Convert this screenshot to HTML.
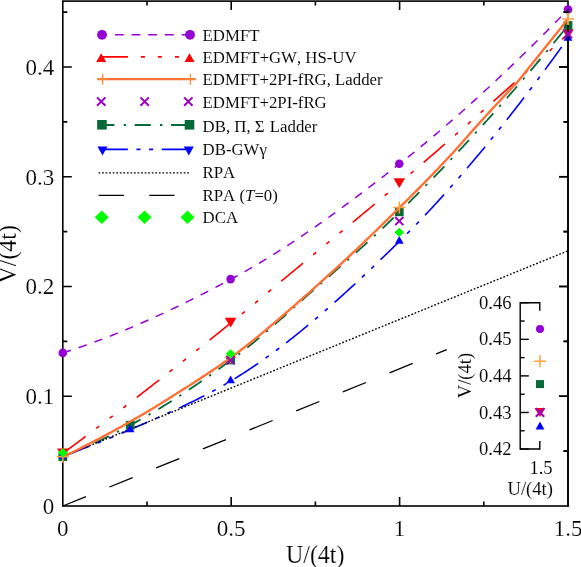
<!DOCTYPE html>
<html><head><meta charset="utf-8"><title>Phase diagram</title>
<style>
html,body{margin:0;padding:0;background:#fff;}
body{width:581px;height:567px;overflow:hidden;font-family:"Liberation Serif",serif;}
svg{display:block;will-change:transform;}
text{font-kerning:none;font-variant-ligatures:none;}
</style></head><body>
<svg width="581" height="567" viewBox="0 0 581 567">
<rect width="581" height="567" fill="#fff"/>
<g stroke="#000" stroke-width="1.6" fill="none" stroke-linecap="butt">
<rect x="62.80" y="1.10" width="505.20" height="504.90"/>
<path d="M147.00,506.00 v-4.50 M147.00,1.10 v4.50"/>
<path d="M231.20,506.00 v-9.00 M231.20,1.10 v9.00"/>
<path d="M315.40,506.00 v-4.50 M315.40,1.10 v4.50"/>
<path d="M399.60,506.00 v-9.00 M399.60,1.10 v9.00"/>
<path d="M483.80,506.00 v-4.50 M483.80,1.10 v4.50"/>
<path d="M62.80,451.12 h4.50 M568.00,451.12 h-4.50"/>
<path d="M62.80,396.24 h9.00 M568.00,396.24 h-9.00"/>
<path d="M62.80,341.36 h4.50 M568.00,341.36 h-4.50"/>
<path d="M62.80,286.48 h9.00 M568.00,286.48 h-9.00"/>
<path d="M62.80,231.60 h4.50 M568.00,231.60 h-4.50"/>
<path d="M62.80,176.72 h9.00 M568.00,176.72 h-9.00"/>
<path d="M62.80,121.84 h4.50 M568.00,121.84 h-4.50"/>
<path d="M62.80,66.96 h9.00 M568.00,66.96 h-9.00"/>
<path d="M62.80,12.08 h4.50 M568.00,12.08 h-4.50"/>
</g>
<path d="M62.80,352.88 L64.49,352.35 L66.18,351.81 L67.87,351.27 L69.56,350.72 L71.25,350.16 L72.94,349.60 L74.63,349.04 L76.32,348.47 L78.01,347.90 L79.70,347.32 L81.39,346.74 L83.08,346.15 L84.77,345.55 L86.45,344.96 L88.14,344.35 L89.83,343.75 L91.52,343.13 L93.21,342.52 L94.90,341.90 L96.59,341.27 L98.28,340.64 L99.97,340.01 L101.66,339.37 L103.35,338.72 L105.04,338.08 L106.73,337.42 L108.42,336.77 L110.11,336.10 L111.80,335.44 L113.49,334.77 L115.18,334.09 L116.87,333.42 L118.56,332.73 L120.25,332.05 L121.94,331.35 L123.63,330.66 L125.32,329.96 L127.01,329.26 L128.70,328.55 L130.39,327.84 L132.07,327.12 L133.76,326.40 L135.45,325.68 L137.14,324.95 L138.83,324.22 L140.52,323.49 L142.21,322.75 L143.90,322.00 L145.59,321.26 L147.28,320.51 L148.97,319.75 L150.66,318.99 L152.35,318.23 L154.04,317.47 L155.73,316.70 L157.42,315.93 L159.11,315.15 L160.80,314.37 L162.49,313.59 L164.18,312.80 L165.87,312.01 L167.56,311.22 L169.25,310.42 L170.94,309.62 L172.63,308.82 L174.32,308.01 L176.01,307.20 L177.69,306.39 L179.38,305.58 L181.07,304.76 L182.76,303.93 L184.45,303.11 L186.14,302.28 L187.83,301.45 L189.52,300.61 L191.21,299.77 L192.90,298.93 L194.59,298.09 L196.28,297.24 L197.97,296.39 L199.66,295.54 L201.35,294.68 L203.04,293.82 L204.73,292.96 L206.42,292.10 L208.11,291.23 L209.80,290.36 L211.49,289.49 L213.18,288.62 L214.87,287.74 L216.56,286.86 L218.25,285.98 L219.94,285.09 L221.63,284.20 L223.32,283.31 L225.00,282.42 L226.69,281.52 L228.38,280.63 L230.07,279.73 L231.76,278.82 L233.45,277.91 L235.14,277.00 L236.83,276.08 L238.52,275.15 L240.21,274.21 L241.90,273.27 L243.59,272.32 L245.28,271.37 L246.97,270.41 L248.66,269.44 L250.35,268.46 L252.04,267.48 L253.73,266.50 L255.42,265.50 L257.11,264.50 L258.80,263.50 L260.49,262.49 L262.18,261.47 L263.87,260.45 L265.56,259.42 L267.25,258.39 L268.94,257.35 L270.62,256.30 L272.31,255.25 L274.00,254.19 L275.69,253.13 L277.38,252.06 L279.07,250.99 L280.76,249.91 L282.45,248.82 L284.14,247.73 L285.83,246.64 L287.52,245.54 L289.21,244.43 L290.90,243.32 L292.59,242.21 L294.28,241.09 L295.97,239.97 L297.66,238.84 L299.35,237.70 L301.04,236.56 L302.73,235.42 L304.42,234.27 L306.11,233.12 L307.80,231.96 L309.49,230.80 L311.18,229.63 L312.87,228.46 L314.56,227.28 L316.24,226.11 L317.93,224.92 L319.62,223.73 L321.31,222.54 L323.00,221.35 L324.69,220.15 L326.38,218.94 L328.07,217.73 L329.76,216.52 L331.45,215.31 L333.14,214.09 L334.83,212.87 L336.52,211.64 L338.21,210.41 L339.90,209.18 L341.59,207.94 L343.28,206.70 L344.97,205.46 L346.66,204.21 L348.35,202.96 L350.04,201.71 L351.73,200.45 L353.42,199.19 L355.11,197.93 L356.80,196.66 L358.49,195.39 L360.18,194.12 L361.86,192.85 L363.55,191.57 L365.24,190.29 L366.93,189.01 L368.62,187.72 L370.31,186.44 L372.00,185.15 L373.69,183.85 L375.38,182.56 L377.07,181.26 L378.76,179.96 L380.45,178.66 L382.14,177.36 L383.83,176.05 L385.52,174.74 L387.21,173.43 L388.90,172.12 L390.59,170.80 L392.28,169.49 L393.97,168.17 L395.66,166.85 L397.35,165.53 L399.04,164.21 L400.73,162.88 L402.42,161.55 L404.11,160.22 L405.80,158.88 L407.48,157.53 L409.17,156.18 L410.86,154.83 L412.55,153.47 L414.24,152.10 L415.93,150.73 L417.62,149.36 L419.31,147.98 L421.00,146.59 L422.69,145.20 L424.38,143.81 L426.07,142.41 L427.76,141.01 L429.45,139.60 L431.14,138.19 L432.83,136.77 L434.52,135.35 L436.21,133.92 L437.90,132.49 L439.59,131.05 L441.28,129.61 L442.97,128.16 L444.66,126.71 L446.35,125.26 L448.04,123.80 L449.73,122.34 L451.42,120.87 L453.11,119.39 L454.79,117.92 L456.48,116.43 L458.17,114.95 L459.86,113.46 L461.55,111.96 L463.24,110.46 L464.93,108.96 L466.62,107.45 L468.31,105.94 L470.00,104.42 L471.69,102.90 L473.38,101.37 L475.07,99.84 L476.76,98.31 L478.45,96.77 L480.14,95.22 L481.83,93.68 L483.52,92.12 L485.21,90.57 L486.90,89.01 L488.59,87.44 L490.28,85.88 L491.97,84.30 L493.66,82.73 L495.35,81.15 L497.04,79.56 L498.73,77.97 L500.41,76.38 L502.10,74.78 L503.79,73.18 L505.48,71.58 L507.17,69.97 L508.86,68.36 L510.55,66.74 L512.24,65.12 L513.93,63.50 L515.62,61.87 L517.31,60.24 L519.00,58.60 L520.69,56.96 L522.38,55.32 L524.07,53.67 L525.76,52.02 L527.45,50.36 L529.14,48.70 L530.83,47.04 L532.52,45.37 L534.21,43.70 L535.90,42.03 L537.59,40.35 L539.28,38.67 L540.97,36.99 L542.66,35.30 L544.35,33.61 L546.03,31.91 L547.72,30.21 L549.41,28.51 L551.10,26.80 L552.79,25.09 L554.48,23.38 L556.17,21.66 L557.86,19.94 L559.55,18.22 L561.24,16.49 L562.93,14.76 L564.62,13.03 L566.31,11.29 L568.00,9.55" fill="none" stroke="#9400D3" stroke-width="1.5" stroke-linecap="butt" stroke-linejoin="round" stroke-dasharray="8.45 8.17" stroke-dashoffset="-0.1"/>
<path d="M62.80,453.31 L64.49,452.07 L66.18,450.82 L67.87,449.58 L69.56,448.33 L71.25,447.07 L72.94,445.82 L74.63,444.57 L76.32,443.31 L78.01,442.05 L79.70,440.79 L81.39,439.53 L83.08,438.27 L84.77,437.01 L86.45,435.74 L88.14,434.48 L89.83,433.21 L91.52,431.94 L93.21,430.67 L94.90,429.39 L96.59,428.12 L98.28,426.84 L99.97,425.57 L101.66,424.29 L103.35,423.01 L105.04,421.73 L106.73,420.44 L108.42,419.16 L110.11,417.87 L111.80,416.58 L113.49,415.30 L115.18,414.01 L116.87,412.72 L118.56,411.42 L120.25,410.13 L121.94,408.83 L123.63,407.54 L125.32,406.24 L127.01,404.94 L128.70,403.64 L130.39,402.34 L132.07,401.03 L133.76,399.73 L135.45,398.42 L137.14,397.12 L138.83,395.81 L140.52,394.50 L142.21,393.19 L143.90,391.88 L145.59,390.57 L147.28,389.25 L148.97,387.94 L150.66,386.62 L152.35,385.30 L154.04,383.98 L155.73,382.66 L157.42,381.34 L159.11,380.02 L160.80,378.70 L162.49,377.37 L164.18,376.05 L165.87,374.72 L167.56,373.39 L169.25,372.07 L170.94,370.74 L172.63,369.40 L174.32,368.07 L176.01,366.74 L177.69,365.41 L179.38,364.07 L181.07,362.74 L182.76,361.40 L184.45,360.06 L186.14,358.72 L187.83,357.38 L189.52,356.04 L191.21,354.70 L192.90,353.36 L194.59,352.01 L196.28,350.67 L197.97,349.33 L199.66,347.98 L201.35,346.63 L203.04,345.28 L204.73,343.94 L206.42,342.59 L208.11,341.24 L209.80,339.88 L211.49,338.53 L213.18,337.18 L214.87,335.83 L216.56,334.47 L218.25,333.12 L219.94,331.76 L221.63,330.40 L223.32,329.04 L225.00,327.69 L226.69,326.33 L228.38,324.97 L230.07,323.61 L231.76,322.25 L233.45,320.88 L235.14,319.51 L236.83,318.14 L238.52,316.76 L240.21,315.38 L241.90,314.00 L243.59,312.61 L245.28,311.22 L246.97,309.82 L248.66,308.43 L250.35,307.03 L252.04,305.63 L253.73,304.23 L255.42,302.82 L257.11,301.41 L258.80,300.01 L260.49,298.60 L262.18,297.19 L263.87,295.77 L265.56,294.36 L267.25,292.95 L268.94,291.53 L270.62,290.12 L272.31,288.71 L274.00,287.29 L275.69,285.88 L277.38,284.46 L279.07,283.05 L280.76,281.64 L282.45,280.23 L284.14,278.82 L285.83,277.41 L287.52,276.00 L289.21,274.60 L290.90,273.20 L292.59,271.79 L294.28,270.39 L295.97,269.00 L297.66,267.60 L299.35,266.20 L301.04,264.81 L302.73,263.41 L304.42,262.02 L306.11,260.63 L307.80,259.24 L309.49,257.85 L311.18,256.46 L312.87,255.07 L314.56,253.68 L316.24,252.29 L317.93,250.90 L319.62,249.51 L321.31,248.13 L323.00,246.74 L324.69,245.35 L326.38,243.97 L328.07,242.58 L329.76,241.19 L331.45,239.81 L333.14,238.42 L334.83,237.03 L336.52,235.65 L338.21,234.26 L339.90,232.87 L341.59,231.48 L343.28,230.09 L344.97,228.70 L346.66,227.31 L348.35,225.92 L350.04,224.53 L351.73,223.14 L353.42,221.75 L355.11,220.35 L356.80,218.96 L358.49,217.56 L360.18,216.16 L361.86,214.76 L363.55,213.36 L365.24,211.96 L366.93,210.56 L368.62,209.16 L370.31,207.75 L372.00,206.34 L373.69,204.94 L375.38,203.52 L377.07,202.11 L378.76,200.70 L380.45,199.28 L382.14,197.86 L383.83,196.44 L385.52,195.02 L387.21,193.60 L388.90,192.17 L390.59,190.74 L392.28,189.31 L393.97,187.88 L395.66,186.44 L397.35,185.01 L399.04,183.56 L400.73,182.12 L402.42,180.68 L404.11,179.23 L405.80,177.79 L407.48,176.34 L409.17,174.89 L410.86,173.44 L412.55,171.99 L414.24,170.54 L415.93,169.09 L417.62,167.64 L419.31,166.18 L421.00,164.73 L422.69,163.27 L424.38,161.81 L426.07,160.36 L427.76,158.90 L429.45,157.44 L431.14,155.98 L432.83,154.52 L434.52,153.05 L436.21,151.59 L437.90,150.12 L439.59,148.66 L441.28,147.19 L442.97,145.72 L444.66,144.25 L446.35,142.78 L448.04,141.31 L449.73,139.84 L451.42,138.37 L453.11,136.89 L454.79,135.42 L456.48,133.94 L458.17,132.47 L459.86,130.99 L461.55,129.51 L463.24,128.03 L464.93,126.55 L466.62,125.06 L468.31,123.58 L470.00,122.10 L471.69,120.61 L473.38,119.12 L475.07,117.63 L476.76,116.15 L478.45,114.66 L480.14,113.16 L481.83,111.67 L483.52,110.18 L485.21,108.68 L486.90,107.19 L488.59,105.69 L490.28,104.19 L491.97,102.69 L493.66,101.19 L495.35,99.69 L497.04,98.19 L498.73,96.69 L500.41,95.18 L502.10,93.68 L503.79,92.17 L505.48,90.66 L507.17,89.15 L508.86,87.64 L510.55,86.13 L512.24,84.62 L513.93,83.10 L515.62,81.59 L517.31,80.07 L519.00,78.56 L520.69,77.04 L522.38,75.52 L524.07,74.00 L525.76,72.47 L527.45,70.95 L529.14,69.43 L530.83,67.90 L532.52,66.37 L534.21,64.85 L535.90,63.32 L537.59,61.79 L539.28,60.25 L540.97,58.72 L542.66,57.19 L544.35,55.65 L546.03,54.12 L547.72,52.58 L549.41,51.04 L551.10,49.50 L552.79,47.96 L554.48,46.41 L556.17,44.87 L557.86,43.33 L559.55,41.78 L561.24,40.23 L562.93,38.68 L564.62,37.13 L566.31,35.58 L568.00,34.03" fill="none" stroke="#FF0000" stroke-width="1.6" stroke-linecap="butt" stroke-linejoin="round" stroke-dasharray="28.4 13.15 3.9 13.15 3.9 13.15 3.9 13.15" stroke-dashoffset="0"/>
<path d="M62.80,456.72 L64.49,456.04 L66.18,455.36 L67.87,454.68 L69.56,453.99 L71.25,453.29 L72.94,452.59 L74.63,451.88 L76.32,451.16 L78.01,450.44 L79.70,449.71 L81.39,448.97 L83.08,448.23 L84.77,447.49 L86.45,446.73 L88.14,445.98 L89.83,445.21 L91.52,444.44 L93.21,443.66 L94.90,442.88 L96.59,442.09 L98.28,441.30 L99.97,440.50 L101.66,439.69 L103.35,438.88 L105.04,438.06 L106.73,437.24 L108.42,436.41 L110.11,435.57 L111.80,434.73 L113.49,433.88 L115.18,433.03 L116.87,432.17 L118.56,431.31 L120.25,430.44 L121.94,429.56 L123.63,428.68 L125.32,427.79 L127.01,426.90 L128.70,426.00 L130.39,425.10 L132.07,424.18 L133.76,423.27 L135.45,422.34 L137.14,421.41 L138.83,420.47 L140.52,419.52 L142.21,418.57 L143.90,417.61 L145.59,416.64 L147.28,415.67 L148.97,414.69 L150.66,413.71 L152.35,412.71 L154.04,411.71 L155.73,410.71 L157.42,409.70 L159.11,408.68 L160.80,407.65 L162.49,406.62 L164.18,405.59 L165.87,404.54 L167.56,403.49 L169.25,402.44 L170.94,401.38 L172.63,400.31 L174.32,399.24 L176.01,398.16 L177.69,397.07 L179.38,395.98 L181.07,394.89 L182.76,393.79 L184.45,392.68 L186.14,391.57 L187.83,390.45 L189.52,389.32 L191.21,388.19 L192.90,387.06 L194.59,385.92 L196.28,384.78 L197.97,383.62 L199.66,382.47 L201.35,381.31 L203.04,380.14 L204.73,378.97 L206.42,377.80 L208.11,376.62 L209.80,375.43 L211.49,374.24 L213.18,373.05 L214.87,371.85 L216.56,370.64 L218.25,369.43 L219.94,368.22 L221.63,367.00 L223.32,365.78 L225.00,364.55 L226.69,363.32 L228.38,362.09 L230.07,360.85 L231.76,359.60 L233.45,358.35 L235.14,357.08 L236.83,355.80 L238.52,354.50 L240.21,353.20 L241.90,351.88 L243.59,350.55 L245.28,349.21 L246.97,347.86 L248.66,346.50 L250.35,345.13 L252.04,343.76 L253.73,342.37 L255.42,340.97 L257.11,339.56 L258.80,338.15 L260.49,336.73 L262.18,335.30 L263.87,333.86 L265.56,332.42 L267.25,330.97 L268.94,329.52 L270.62,328.06 L272.31,326.59 L274.00,325.12 L275.69,323.64 L277.38,322.16 L279.07,320.68 L280.76,319.19 L282.45,317.70 L284.14,316.21 L285.83,314.71 L287.52,313.21 L289.21,311.71 L290.90,310.21 L292.59,308.70 L294.28,307.20 L295.97,305.69 L297.66,304.19 L299.35,302.68 L301.04,301.18 L302.73,299.67 L304.42,298.17 L306.11,296.67 L307.80,295.17 L309.49,293.67 L311.18,292.18 L312.87,290.69 L314.56,289.20 L316.24,287.71 L317.93,286.23 L319.62,284.74 L321.31,283.26 L323.00,281.78 L324.69,280.30 L326.38,278.82 L328.07,277.33 L329.76,275.85 L331.45,274.37 L333.14,272.88 L334.83,271.40 L336.52,269.91 L338.21,268.43 L339.90,266.94 L341.59,265.45 L343.28,263.96 L344.97,262.46 L346.66,260.97 L348.35,259.47 L350.04,257.96 L351.73,256.46 L353.42,254.95 L355.11,253.44 L356.80,251.93 L358.49,250.41 L360.18,248.89 L361.86,247.36 L363.55,245.83 L365.24,244.30 L366.93,242.76 L368.62,241.22 L370.31,239.67 L372.00,238.11 L373.69,236.55 L375.38,234.99 L377.07,233.42 L378.76,231.84 L380.45,230.26 L382.14,228.67 L383.83,227.08 L385.52,225.48 L387.21,223.87 L388.90,222.25 L390.59,220.63 L392.28,219.00 L393.97,217.36 L395.66,215.71 L397.35,214.06 L399.04,212.40 L400.73,210.73 L402.42,209.05 L404.11,207.38 L405.80,205.70 L407.48,204.01 L409.17,202.32 L410.86,200.63 L412.55,198.94 L414.24,197.24 L415.93,195.53 L417.62,193.83 L419.31,192.12 L421.00,190.40 L422.69,188.68 L424.38,186.96 L426.07,185.24 L427.76,183.51 L429.45,181.78 L431.14,180.04 L432.83,178.30 L434.52,176.55 L436.21,174.80 L437.90,173.05 L439.59,171.30 L441.28,169.54 L442.97,167.77 L444.66,166.00 L446.35,164.23 L448.04,162.46 L449.73,160.68 L451.42,158.89 L453.11,157.10 L454.79,155.31 L456.48,153.52 L458.17,151.72 L459.86,149.91 L461.55,148.11 L463.24,146.29 L464.93,144.48 L466.62,142.66 L468.31,140.83 L470.00,139.00 L471.69,137.17 L473.38,135.33 L475.07,133.49 L476.76,131.65 L478.45,129.80 L480.14,127.95 L481.83,126.09 L483.52,124.23 L485.21,122.36 L486.90,120.49 L488.59,118.62 L490.28,116.74 L491.97,114.85 L493.66,112.97 L495.35,111.07 L497.04,109.18 L498.73,107.28 L500.41,105.37 L502.10,103.46 L503.79,101.55 L505.48,99.63 L507.17,97.71 L508.86,95.78 L510.55,93.85 L512.24,91.92 L513.93,89.98 L515.62,88.03 L517.31,86.08 L519.00,84.13 L520.69,82.17 L522.38,80.21 L524.07,78.24 L525.76,76.27 L527.45,74.29 L529.14,72.31 L530.83,70.33 L532.52,68.34 L534.21,66.34 L535.90,64.34 L537.59,62.34 L539.28,60.33 L540.97,58.32 L542.66,56.30 L544.35,54.28 L546.03,52.25 L547.72,50.22 L549.41,48.18 L551.10,46.14 L552.79,44.10 L554.48,42.05 L556.17,39.99 L557.86,37.93 L559.55,35.86 L561.24,33.79 L562.93,31.72 L564.62,29.64 L566.31,27.56 L568.00,25.47" fill="none" stroke="#056A38" stroke-width="1.8" stroke-linecap="butt" stroke-linejoin="round" stroke-dasharray="15.6 9.0 2.4 9.05" stroke-dashoffset="1.25"/>
<path d="M62.80,456.06 L64.49,455.46 L66.18,454.85 L67.87,454.24 L69.56,453.63 L71.25,453.01 L72.94,452.39 L74.63,451.77 L76.32,451.15 L78.01,450.52 L79.70,449.89 L81.39,449.25 L83.08,448.62 L84.77,447.98 L86.45,447.33 L88.14,446.69 L89.83,446.04 L91.52,445.39 L93.21,444.73 L94.90,444.07 L96.59,443.41 L98.28,442.75 L99.97,442.08 L101.66,441.41 L103.35,440.73 L105.04,440.06 L106.73,439.38 L108.42,438.69 L110.11,438.01 L111.80,437.31 L113.49,436.62 L115.18,435.93 L116.87,435.23 L118.56,434.52 L120.25,433.82 L121.94,433.11 L123.63,432.39 L125.32,431.68 L127.01,430.96 L128.70,430.24 L130.39,429.51 L132.07,428.78 L133.76,428.06 L135.45,427.33 L137.14,426.60 L138.83,425.88 L140.52,425.15 L142.21,424.42 L143.90,423.69 L145.59,422.96 L147.28,422.23 L148.97,421.50 L150.66,420.77 L152.35,420.03 L154.04,419.29 L155.73,418.55 L157.42,417.81 L159.11,417.07 L160.80,416.32 L162.49,415.57 L164.18,414.82 L165.87,414.07 L167.56,413.31 L169.25,412.55 L170.94,411.78 L172.63,411.02 L174.32,410.24 L176.01,409.47 L177.69,408.69 L179.38,407.90 L181.07,407.11 L182.76,406.32 L184.45,405.52 L186.14,404.71 L187.83,403.90 L189.52,403.09 L191.21,402.27 L192.90,401.44 L194.59,400.61 L196.28,399.77 L197.97,398.92 L199.66,398.07 L201.35,397.21 L203.04,396.35 L204.73,395.48 L206.42,394.60 L208.11,393.71 L209.80,392.82 L211.49,391.91 L213.18,391.00 L214.87,390.09 L216.56,389.16 L218.25,388.23 L219.94,387.28 L221.63,386.33 L223.32,385.37 L225.00,384.40 L226.69,383.42 L228.38,382.43 L230.07,381.43 L231.76,380.43 L233.45,379.41 L235.14,378.38 L236.83,377.34 L238.52,376.29 L240.21,375.23 L241.90,374.16 L243.59,373.08 L245.28,371.99 L246.97,370.89 L248.66,369.78 L250.35,368.66 L252.04,367.54 L253.73,366.40 L255.42,365.25 L257.11,364.09 L258.80,362.93 L260.49,361.75 L262.18,360.57 L263.87,359.38 L265.56,358.17 L267.25,356.96 L268.94,355.74 L270.62,354.51 L272.31,353.28 L274.00,352.03 L275.69,350.78 L277.38,349.51 L279.07,348.24 L280.76,346.96 L282.45,345.68 L284.14,344.38 L285.83,343.08 L287.52,341.76 L289.21,340.45 L290.90,339.12 L292.59,337.78 L294.28,336.44 L295.97,335.09 L297.66,333.73 L299.35,332.37 L301.04,331.00 L302.73,329.62 L304.42,328.23 L306.11,326.84 L307.80,325.44 L309.49,324.03 L311.18,322.62 L312.87,321.20 L314.56,319.77 L316.24,318.34 L317.93,316.90 L319.62,315.45 L321.31,314.00 L323.00,312.54 L324.69,311.07 L326.38,309.60 L328.07,308.12 L329.76,306.64 L331.45,305.15 L333.14,303.65 L334.83,302.15 L336.52,300.65 L338.21,299.14 L339.90,297.62 L341.59,296.10 L343.28,294.57 L344.97,293.03 L346.66,291.50 L348.35,289.95 L350.04,288.40 L351.73,286.85 L353.42,285.29 L355.11,283.73 L356.80,282.16 L358.49,280.59 L360.18,279.01 L361.86,277.43 L363.55,275.85 L365.24,274.26 L366.93,272.66 L368.62,271.07 L370.31,269.47 L372.00,267.86 L373.69,266.25 L375.38,264.64 L377.07,263.02 L378.76,261.40 L380.45,259.78 L382.14,258.15 L383.83,256.52 L385.52,254.88 L387.21,253.25 L388.90,251.60 L390.59,249.96 L392.28,248.31 L393.97,246.67 L395.66,245.01 L397.35,243.36 L399.04,241.70 L400.73,240.04 L402.42,238.37 L404.11,236.69 L405.80,235.00 L407.48,233.31 L409.17,231.60 L410.86,229.89 L412.55,228.17 L414.24,226.44 L415.93,224.70 L417.62,222.95 L419.31,221.20 L421.00,219.43 L422.69,217.66 L424.38,215.88 L426.07,214.09 L427.76,212.30 L429.45,210.49 L431.14,208.68 L432.83,206.86 L434.52,205.03 L436.21,203.19 L437.90,201.35 L439.59,199.50 L441.28,197.64 L442.97,195.77 L444.66,193.89 L446.35,192.01 L448.04,190.12 L449.73,188.22 L451.42,186.31 L453.11,184.40 L454.79,182.47 L456.48,180.54 L458.17,178.61 L459.86,176.66 L461.55,174.71 L463.24,172.75 L464.93,170.78 L466.62,168.81 L468.31,166.82 L470.00,164.84 L471.69,162.84 L473.38,160.84 L475.07,158.82 L476.76,156.81 L478.45,154.78 L480.14,152.75 L481.83,150.71 L483.52,148.66 L485.21,146.61 L486.90,144.55 L488.59,142.48 L490.28,140.41 L491.97,138.33 L493.66,136.24 L495.35,134.15 L497.04,132.04 L498.73,129.94 L500.41,127.82 L502.10,125.70 L503.79,123.57 L505.48,121.44 L507.17,119.30 L508.86,117.15 L510.55,115.00 L512.24,112.84 L513.93,110.67 L515.62,108.50 L517.31,106.32 L519.00,104.14 L520.69,101.94 L522.38,99.75 L524.07,97.54 L525.76,95.33 L527.45,93.12 L529.14,90.89 L530.83,88.67 L532.52,86.43 L534.21,84.19 L535.90,81.95 L537.59,79.69 L539.28,77.44 L540.97,75.17 L542.66,72.90 L544.35,70.63 L546.03,68.35 L547.72,66.06 L549.41,63.77 L551.10,61.47 L552.79,59.17 L554.48,56.86 L556.17,54.55 L557.86,52.23 L559.55,49.90 L561.24,47.57 L562.93,45.24 L564.62,42.90 L566.31,40.55 L568.00,38.20" fill="none" stroke="#0000FF" stroke-width="1.6" stroke-linecap="butt" stroke-linejoin="round" stroke-dasharray="28.2 8.9 4 8.9 4 8.9" stroke-dashoffset="0"/>
<path d="M62.80,456.61 L568.00,250.81" fill="none" stroke="#000000" stroke-width="1.4" stroke-linecap="butt" stroke-linejoin="round" stroke-dasharray="1.75 1.8" stroke-dashoffset="0"/>
<path d="M62.80,506.00 L446.75,349.59" fill="none" stroke="#000000" stroke-width="1.3" stroke-linecap="butt" stroke-linejoin="round" stroke-dasharray="25 25.4" stroke-dashoffset="0"/>
<circle cx="62.80" cy="352.88" r="4.30" fill="#9400D3"/>
<circle cx="230.60" cy="279.12" r="4.30" fill="#9400D3"/>
<circle cx="399.30" cy="163.77" r="4.30" fill="#9400D3"/>
<circle cx="568.00" cy="9.55" r="4.30" fill="#9400D3"/>
<path d="M57.00,448.46 L68.60,448.46 L62.80,458.16 Z" fill="#FF0000"/>
<path d="M224.80,317.85 L236.40,317.85 L230.60,327.55 Z" fill="#FF0000"/>
<path d="M393.50,178.23 L405.10,178.23 L399.30,187.93 Z" fill="#FF0000"/>
<path d="M562.20,29.18 L573.80,29.18 L568.00,38.88 Z" fill="#FF0000"/>
<rect x="58.45" y="452.37" width="8.70" height="8.70" fill="#056A38"/>
<rect x="125.81" y="420.87" width="8.70" height="8.70" fill="#056A38"/>
<rect x="226.25" y="355.67" width="8.70" height="8.70" fill="#056A38"/>
<rect x="394.95" y="207.49" width="8.70" height="8.70" fill="#056A38"/>
<rect x="563.65" y="21.12" width="8.70" height="8.70" fill="#056A38"/>
<path d="M62.80,450.86 L67.20,458.66 L58.40,458.66 Z" fill="#0000FF"/>
<path d="M130.16,424.41 L134.56,432.21 L125.76,432.21 Z" fill="#0000FF"/>
<path d="M230.60,375.56 L235.00,383.36 L226.20,383.36 Z" fill="#0000FF"/>
<path d="M399.30,235.95 L403.70,243.75 L394.90,243.75 Z" fill="#0000FF"/>
<path d="M568.00,33.00 L572.40,40.80 L563.60,40.80 Z" fill="#0000FF"/>
<g stroke="#000" stroke-width="1.6" fill="none">
<path d="M568.00,9.55 V506.80"/>
<path d="M568.00,451.12 h-4.50"/>
<path d="M568.00,396.24 h-9.00"/>
<path d="M568.00,341.36 h-4.50"/>
<path d="M568.00,286.48 h-9.00"/>
<path d="M568.00,231.60 h-4.50"/>
<path d="M568.00,176.72 h-9.00"/>
<path d="M568.00,121.84 h-4.50"/>
<path d="M568.00,66.96 h-9.00"/>
<path d="M568.00,12.08 h-4.50"/>
</g>
<path d="M62.80,456.83 L65.85,455.38 L68.90,453.92 L71.95,452.44 L75.01,450.95 L78.06,449.44 L81.11,447.92 L84.16,446.38 L87.21,444.83 L90.26,443.26 L93.32,441.69 L96.37,440.10 L99.42,438.50 L102.47,436.88 L105.52,435.25 L108.57,433.61 L111.62,431.96 L114.68,430.30 L117.73,428.63 L120.78,426.94 L123.83,425.25 L126.88,423.55 L129.93,421.83 L132.99,420.10 L136.04,418.35 L139.09,416.58 L142.14,414.79 L145.19,412.98 L148.24,411.15 L151.29,409.31 L154.35,407.45 L157.40,405.58 L160.45,403.70 L163.50,401.80 L166.55,399.90 L169.60,397.98 L172.66,396.06 L175.71,394.13 L178.76,392.19 L181.81,390.25 L184.86,388.31 L187.91,386.37 L190.96,384.42 L194.02,382.47 L197.07,380.51 L200.12,378.54 L203.17,376.56 L206.22,374.56 L209.27,372.54 L212.33,370.50 L215.38,368.44 L218.43,366.35 L221.48,364.23 L224.53,362.08 L227.58,359.90 L230.63,357.69 L233.69,355.44 L236.74,353.15 L239.79,350.84 L242.84,348.50 L245.89,346.12 L248.94,343.72 L252.00,341.30 L255.05,338.85 L258.10,336.38 L261.15,333.88 L264.20,331.36 L267.25,328.82 L270.30,326.27 L273.36,323.69 L276.41,321.10 L279.46,318.50 L282.51,315.87 L285.56,313.24 L288.61,310.59 L291.67,307.94 L294.72,305.27 L297.77,302.59 L300.82,299.91 L303.87,297.22 L306.92,294.53 L309.98,291.83 L313.03,289.13 L316.08,286.43 L319.13,283.71 L322.18,280.98 L325.23,278.24 L328.28,275.48 L331.34,272.71 L334.39,269.92 L337.44,267.12 L340.49,264.30 L343.54,261.47 L346.59,258.63 L349.65,255.78 L352.70,252.91 L355.75,250.03 L358.80,247.14 L361.85,244.24 L364.90,241.33 L367.95,238.41 L371.01,235.48 L374.06,232.53 L377.11,229.58 L380.16,226.62 L383.21,223.65 L386.26,220.67 L389.32,217.68 L392.37,214.69 L395.42,211.69 L398.47,208.68 L401.52,205.66 L404.57,202.63 L407.62,199.59 L410.68,196.54 L413.73,193.48 L416.78,190.41 L419.83,187.32 L422.88,184.22 L425.93,181.10 L428.99,177.96 L432.04,174.81 L435.09,171.64 L438.14,168.45 L441.19,165.24 L444.24,162.01 L447.29,158.76 L450.35,155.49 L453.40,152.19 L456.45,148.86 L459.50,145.45 L462.55,141.97 L465.60,138.46 L468.66,134.97 L471.71,131.54 L474.76,128.15 L477.81,124.77 L480.86,121.41 L483.91,118.05 L486.96,114.70 L490.02,111.37 L493.07,108.05 L496.12,104.74 L499.17,101.44 L502.22,98.16 L505.27,94.89 L508.33,91.64 L511.38,88.41 L514.43,85.19 L517.48,81.99 L568.00,19.10" fill="none" stroke="#FF6F33" stroke-width="2.35" stroke-linecap="butt" stroke-linejoin="round"/>
<path d="M56.80,456.83 L68.80,456.83 M62.80,450.83 L62.80,462.83" stroke="#FFA040" stroke-width="1.5" fill="none"/>
<path d="M224.60,357.27 L236.60,357.27 M230.60,351.27 L230.60,363.27" stroke="#FFA040" stroke-width="1.5" fill="none"/>
<path d="M393.30,207.56 L405.30,207.56 M399.30,201.56 L399.30,213.56" stroke="#FFA040" stroke-width="1.5" fill="none"/>
<path d="M568.00,13.10 v12" stroke="#FFA040" stroke-width="1.9" fill="none"/>
<path d="M562.00,19.10 L574.00,19.10 M568.00,13.10 L568.00,25.10" stroke="#FFA040" stroke-width="1.5" fill="none"/>
<path d="M226.50,356.14 L234.70,364.34 M226.50,364.34 L234.70,356.14" stroke="#9A00C2" stroke-width="2.0" fill="none"/>
<path d="M395.20,216.96 L403.40,225.16 M395.20,225.16 L403.40,216.96" stroke="#9A00C2" stroke-width="2.0" fill="none"/>
<path d="M563.90,29.93 L572.10,38.13 M563.90,38.13 L572.10,29.93" stroke="#9A00C2" stroke-width="2.0" fill="none"/>
<path d="M62.80,448.07 L67.70,452.77 L62.80,457.47 L57.90,452.77 Z" fill="#00FF00"/>
<path d="M230.60,349.17 L235.50,353.87 L230.60,358.57 L225.70,353.87 Z" fill="#00FF00"/>
<path d="M399.30,227.67 L404.20,232.37 L399.30,237.07 L394.40,232.37 Z" fill="#00FF00"/>
<path d="M98.20,34.80 H192.00" fill="none" stroke="#9400D3" stroke-width="1.5" stroke-linecap="butt" stroke-linejoin="round" stroke-dasharray="8.8 7.9" stroke-dashoffset="0"/>
<circle cx="102.00" cy="34.80" r="4.90" fill="#9400D3"/>
<circle cx="190.00" cy="34.80" r="4.90" fill="#9400D3"/>
<path d="M99.90,56.90 H192.00" fill="none" stroke="#FF0000" stroke-width="1.8" stroke-linecap="butt" stroke-linejoin="round" stroke-dasharray="28 13 4 13 4 13 4 13" stroke-dashoffset="0"/>
<path d="M101.20,53.30 L106.20,61.90 L96.20,61.90 Z" fill="#FF0000"/>
<path d="M189.50,53.30 L194.50,61.90 L184.50,61.90 Z" fill="#FF0000"/>
<path d="M97.30,79.20 H195.60" fill="none" stroke="#FF6F33" stroke-width="2.25" stroke-linecap="butt" stroke-linejoin="round"/>
<path d="M97.10,79.20 L108.10,79.20 M102.60,73.70 L102.60,84.70" stroke="#FF8A38" stroke-width="1.3" fill="none"/>
<path d="M184.90,79.20 L195.90,79.20 M190.40,73.70 L190.40,84.70" stroke="#FF8A38" stroke-width="1.3" fill="none"/>
<path d="M97.00,97.40 L105.40,105.80 M97.00,105.80 L105.40,97.40" stroke="#9A00C2" stroke-width="2.0" fill="none"/>
<path d="M140.50,97.40 L148.90,105.80 M140.50,105.80 L148.90,97.40" stroke="#9A00C2" stroke-width="2.0" fill="none"/>
<path d="M184.10,97.40 L192.50,105.80 M184.10,105.80 L192.50,97.40" stroke="#9A00C2" stroke-width="2.0" fill="none"/>
<path d="M98.40,125.00 H192.00" fill="none" stroke="#056A38" stroke-width="1.9" stroke-linecap="butt" stroke-linejoin="round" stroke-dasharray="16.1 9.2 2.4 8.6" stroke-dashoffset="0"/>
<rect x="97.15" y="120.00" width="9.60" height="9.60" fill="#056A38"/>
<rect x="184.70" y="120.00" width="9.60" height="9.60" fill="#056A38"/>
<path d="M99.90,149.40 H192.00" fill="none" stroke="#0000FF" stroke-width="1.8" stroke-linecap="butt" stroke-linejoin="round" stroke-dasharray="28 8.6 4 8.6 4 8.6" stroke-dashoffset="0"/>
<path d="M97.50,146.50 L107.50,146.50 L102.50,155.50 Z" fill="#0000FF"/>
<path d="M183.80,146.50 L193.80,146.50 L188.80,155.50 Z" fill="#0000FF"/>
<path d="M98.50,172.90 H189.50" fill="none" stroke="#000000" stroke-width="1.4" stroke-linecap="butt" stroke-linejoin="round" stroke-dasharray="1.75 1.8" stroke-dashoffset="0"/>
<path d="M98.60,195.30 H189.50" fill="none" stroke="#000000" stroke-width="1.3" stroke-linecap="butt" stroke-linejoin="round" stroke-dasharray="25.3 25.3" stroke-dashoffset="0"/>
<path d="M101.70,210.50 L108.70,217.30 L101.70,224.10 L94.70,217.30 Z" fill="#00FF00"/>
<path d="M144.50,210.50 L151.50,217.30 L144.50,224.10 L137.50,217.30 Z" fill="#00FF00"/>
<path d="M187.50,210.50 L194.50,217.30 L187.50,224.10 L180.50,217.30 Z" fill="#00FF00"/>
<g font-family="'Liberation Serif', serif" font-size="16.8px" fill="#000" stroke="#fff" stroke-width="0.06">
<text x="202.6" y="40.80">EDMFT</text>
<text x="202.6" y="63.10">EDMFT+GW, HS-UV</text>
<text x="202.6" y="85.40">EDMFT+2PI-fRG, Ladder</text>
<text x="202.6" y="107.80">EDMFT+2PI-fRG</text>
<text x="202.6" y="131.85">DB, Π, Σ<tspan dx="1.1"> Ladder</tspan></text>
<text x="202.6" y="154.90">DB-GWγ</text>
<text x="202.6" y="178.30">RPA</text>
<text x="202.6" y="200.70">RPA (<tspan font-style="italic">T</tspan>=0)</text>
<text x="202.6" y="223.10">DCA</text>
</g>
<g font-family="'Liberation Serif', serif" font-size="23px" fill="#000" stroke="#fff" stroke-width="0.15">
<text x="54.2" y="513.80" text-anchor="end">0</text>
<text x="54.2" y="404.04" text-anchor="end">0.1</text>
<text x="54.2" y="294.28" text-anchor="end">0.2</text>
<text x="54.2" y="184.52" text-anchor="end">0.3</text>
<text x="54.2" y="74.76" text-anchor="end">0.4</text>
<text x="62.80" y="535.6" text-anchor="middle">0</text>
<text x="231.20" y="535.6" text-anchor="middle">0.5</text>
<text x="399.60" y="535.6" text-anchor="middle">1</text>
<text x="568.00" y="535.6" text-anchor="middle">1.5</text>
<text transform="translate(315.2,562.6) scale(0.975,1)" text-anchor="middle" font-size="24.6px">U/(4t)</text>
<text transform="translate(16.1,254.3) rotate(-90) scale(0.975,1)" text-anchor="middle" font-size="24.6px">V/(4t)</text>
</g>
<g stroke="#000" stroke-width="1.4" fill="none">
<path d="M539.80,302.75 H520.20 V449.05 H539.80"/>
<path d="M539.80,302.05 v8.8 M539.80,449.75 v-8.8"/>
<path d="M520.20,449.05 h8.60"/>
<path d="M520.20,430.76 h4.40"/>
<path d="M520.20,412.48 h8.60"/>
<path d="M520.20,394.19 h4.40"/>
<path d="M520.20,375.90 h8.60"/>
<path d="M520.20,357.61 h4.40"/>
<path d="M520.20,339.33 h8.60"/>
<path d="M520.20,321.04 h4.40"/>
<path d="M520.20,302.75 h8.60"/>
</g>
<circle cx="540.00" cy="329.08" r="4.00" fill="#9400D3"/>
<path d="M534.70,407.98 L545.30,407.98 L540.00,416.98 Z" fill="#FF0000"/>
<rect x="536.00" y="380.09" width="8.00" height="8.00" fill="#056A38"/>
<path d="M540.00,421.61 L544.40,429.41 L535.60,429.41 Z" fill="#0000FF"/>
<path d="M534.10,361.27 L545.90,361.27 M540.00,355.37 L540.00,367.17" stroke="#FFA040" stroke-width="1.5" fill="none"/>
<path d="M535.80,408.28 L544.20,416.68 M535.80,416.68 L544.20,408.28" stroke="#9A00C2" stroke-width="2.1" fill="none"/>
<g font-family="'Liberation Serif', serif" font-size="18.6px" fill="#000" stroke="#fff" stroke-width="0.08">
<text x="511.5" y="455.15" text-anchor="end">0.42</text>
<text x="511.5" y="418.58" text-anchor="end">0.43</text>
<text x="511.5" y="382.00" text-anchor="end">0.44</text>
<text x="511.5" y="345.43" text-anchor="end">0.45</text>
<text x="511.5" y="308.85" text-anchor="end">0.46</text>
<text x="541" y="474.3" text-anchor="middle">1.5</text>
<text x="530.2" y="494.6" text-anchor="middle">U/(4t)</text>
<text transform="translate(470.5,375.5) rotate(-90)" text-anchor="middle">V/(4t)</text>
</g>
</svg>
</body></html>
